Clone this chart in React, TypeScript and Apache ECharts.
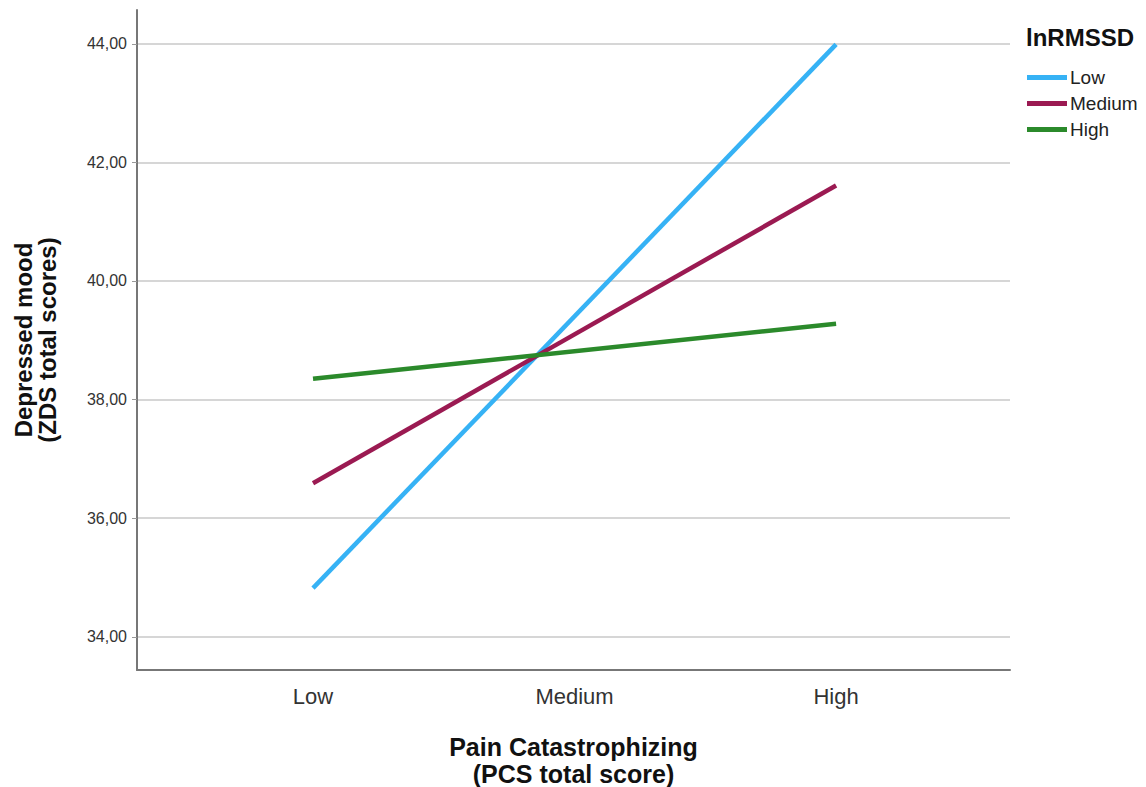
import React, { useEffect, useRef } from "react";
import * as echarts from "echarts";

const categories = ["Low", "Medium", "High"];
const categoryPositions = [0, 1, 2];
const seriesNames = ["Low", "Medium", "High"];
const lowValues = [34.82, 43.99];
const mediumValues = [36.59, 41.61];
const highValues = [38.35, 39.28];
const endpointPositions = [0, 2];
const yTicks = [34, 36, 38, 40, 42, 44];
const colors = ["#36b2f5", "#9b1a52", "#2b8a2b"];

const FONT = "Arial, 'Liberation Sans', sans-serif";

export default function App() {
  const ref = useRef<HTMLDivElement>(null);
  useEffect(() => {
    document.body.style.margin = "0";
    const chart = echarts.init(ref.current!, null, { renderer: "svg" });
    const allValues = [lowValues, mediumValues, highValues];
    chart.setOption({
      animation: false,
      backgroundColor: "#ffffff",
      textStyle: { fontFamily: FONT },
      grid: { left: 137, right: 136, top: 10, bottom: 117, containLabel: false, outerBoundsMode: "none" },
      title: {
        text: "lnRMSSD",
        left: 1021,
        top: 20,
        textStyle: { fontFamily: FONT, fontSize: 24, fontWeight: "bold", color: "#111" },
      },
      legend: {
        orient: "vertical",
        left: 1022,
        top: 63,
        itemWidth: 40,
        itemHeight: 5,
        itemGap: 7,
        icon: "rect",
        data: seriesNames,
        textStyle: { fontFamily: FONT, fontSize: 19, color: "#222", padding: [0, 0, 0, -2] },
      },
      xAxis: {
        type: "value",
        min: -0.673,
        max: 2.665,
        name: "Pain Catastrophizing\n(PCS total score)",
        nameLocation: "middle",
        nameGap: 63,
        nameTextStyle: { fontFamily: FONT, fontSize: 25, fontWeight: "bold", color: "#111", lineHeight: 27 },
        axisLine: { show: true, onZero: false, lineStyle: { color: "#777", width: 2 } },
        axisTick: { show: false, customValues: categoryPositions },
        splitLine: { show: false },
        axisLabel: {
          customValues: categoryPositions,
          formatter: (v: number) => categories[Math.round(v)] ?? "",
          fontFamily: FONT,
          fontSize: 22,
          color: "#333",
          margin: 15,
        },
      },
      yAxis: {
        type: "value",
        min: 33.44,
        max: 44.57,
        name: "Depressed mood\n(ZDS total scores)",
        nameLocation: "middle",
        nameRotate: 90,
        nameGap: 78,
        nameTextStyle: { fontFamily: FONT, fontSize: 24, fontWeight: "bold", color: "#111", lineHeight: 24 },
        axisLine: { show: true, onZero: false, lineStyle: { color: "#777", width: 2 } },
        axisTick: { show: true, inside: false, length: 5, customValues: yTicks, lineStyle: { color: "#999" } },
        splitLine: { show: true, lineStyle: { color: "#c8c8c8", width: 1.5 } },
        axisLabel: {
          customValues: yTicks,
          formatter: (v: number) => v.toFixed(2).replace(".", ","),
          fontFamily: FONT,
          fontSize: 16,
          color: "#333",
          margin: 10,
        },
      },
      series: seriesNames.map((name, i) => ({
        name,
        type: "line",
        showSymbol: false,
        symbol: "none",
        color: colors[i],
        lineStyle: { width: 4.5, color: colors[i] },
        data: endpointPositions.map((x, j) => [x, allValues[i][j]]),
      })),
    });
    return () => chart.dispose();
  }, []);
  return <div ref={ref} style={{ width: 1146, height: 787 }} />;
}
